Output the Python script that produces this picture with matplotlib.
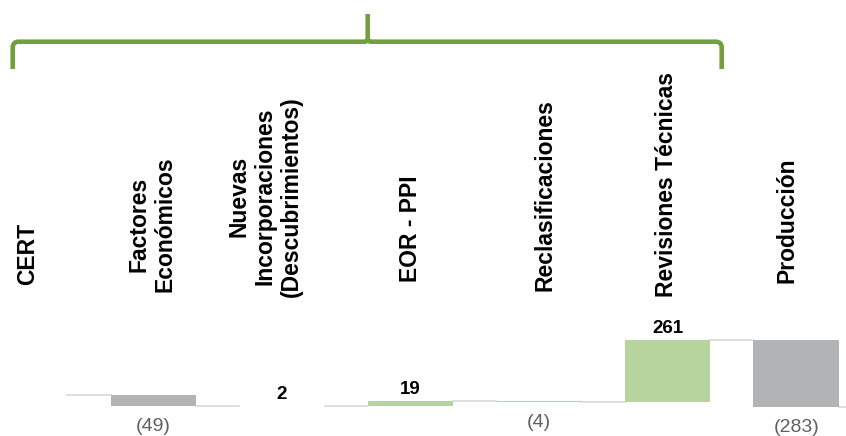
import matplotlib.pyplot as plt
from matplotlib.path import Path
from matplotlib.patches import PathPatch
from matplotlib.transforms import blended_transform_factory

plt.rcParams['font.family'] = ['Liberation Sans', 'DejaVu Sans']

# categorías del puente de reservas (CERT -> variaciones)
categorias = ["CERT", "Factores\nEconómicos", "Nuevas\nIncorporaciones\n(Descubrimientos)",
              "EOR - PPI", "Reclasificaciones", "Revisiones Técnicas", "Producción"]
nivel_cert = 0.0          # nivel de partida (la barra de CERT queda fuera del recorte)
variaciones = [-49, 2, 19, -4, 261, -283]
etiquetas = ["(49)", "2", "19", "(4)", "261", "(283)"]

VERDE = "#b8d49e"
GRIS = "#b1b3b4"
colores = [GRIS, VERDE, VERDE, VERDE, VERDE, GRIS]

# ajustes de posición de los títulos de categoría (desplazamiento x, base en px desde arriba)
despl_x = [0.02, -0.01, -0.13, 0.0, 0.05, -0.01, -0.07]
base_px = [285, 292, 297, 282, 291, 297, 283]

W, H = 846, 436
ANCHO = 0.665

fig = plt.figure(figsize=(W / 100, H / 100), dpi=100)
ax = fig.add_axes([0, 0, 1, 1])
ax.set_xlim(-0.192, 6.387)
ax.set_ylim(-174.9, 1667.1)
ax.axis('off')

# niveles acumulados
niveles = [nivel_cert]
for v in variaciones:
    niveles.append(niveles[-1] + v)

xs = list(range(1, len(variaciones) + 1))
bottoms = [min(niveles[i], niveles[i + 1]) for i in range(len(variaciones))]
alturas = [abs(v) for v in variaciones]
ax.bar(xs, alturas, bottom=bottoms, width=ANCHO, color=colores, linewidth=0, zorder=2)

# líneas de conexión entre barras
for i, nivel in enumerate(niveles):
    ax.plot([i + ANCHO / 2, i + 1 - ANCHO / 2], [nivel, nivel],
            color="#d9d9d9", lw=1.2, zorder=1, clip_on=True)

# valores: positivos encima de la barra, negativos debajo
for j, (v, txt) in enumerate(zip(variaciones, etiquetas)):
    x = xs[j]
    if v >= 0:
        ax.annotate(txt, (x, bottoms[j] + alturas[j]), xytext=(0, 7), textcoords='offset pixels',
                    ha='center', va='baseline', fontsize=13.5, fontweight='bold', color='black')
    else:
        ax.annotate(txt, (x, bottoms[j]), xytext=(0, -25), textcoords='offset pixels',
                    ha='center', va='baseline', fontsize=14, color='#5f5f5f')

# títulos de categoría en vertical
trans = blended_transform_factory(ax.transData, ax.transAxes)
for i, nombre in enumerate(categorias):
    ax.text(i + despl_x[i], 1 - base_px[i] / H, nombre, transform=trans,
            rotation=90, ha='center', va='bottom', multialignment='center',
            fontsize=16.5, fontweight='bold', color='black', linespacing=1.2)

# llave superior
capa = fig.add_axes([0, 0, 1, 1], facecolor='none')
capa.set_xlim(0, W)
capa.set_ylim(H, 0)
capa.axis('off')

xl, xm, xr = 12.7, 367.7, 721.7
yb, yh, yt = 69, 41.7, 14
r, s = 6, 3
verts = [(xl, yb), (xl, yh + r), (xl, yh), (xl + r, yh), (xm - s, yh), (xm, yh), (xm, yh - s), (xm, yt),
         (xr, yb), (xr, yh + r), (xr, yh), (xr - r, yh), (xm + s, yh), (xm, yh), (xm, yh - s)]
codes = [Path.MOVETO, Path.LINETO, Path.CURVE3, Path.CURVE3, Path.LINETO, Path.CURVE3, Path.CURVE3, Path.LINETO,
         Path.MOVETO, Path.LINETO, Path.CURVE3, Path.CURVE3, Path.LINETO, Path.CURVE3, Path.CURVE3]
llave = PathPatch(Path(verts, codes), facecolor='none', edgecolor='#72a03c', lw=3.3,
                  capstyle='butt', joinstyle='round')
capa.add_patch(llave)

fig.savefig('out.png', dpi=100)
